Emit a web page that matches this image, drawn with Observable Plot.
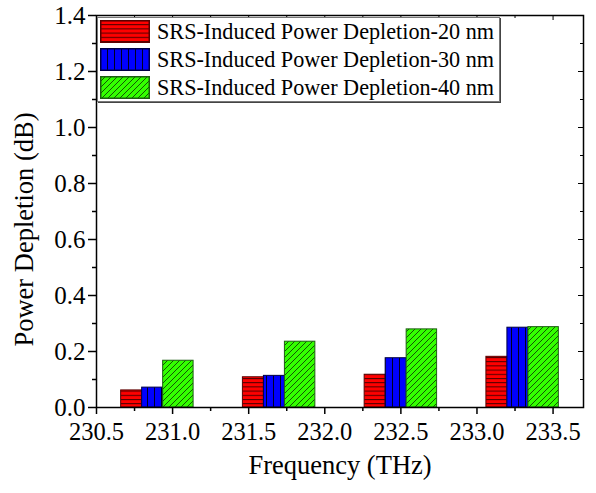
<!DOCTYPE html>
<html><head><meta charset="utf-8">
<script src="https://cdn.jsdelivr.net/npm/d3@7"></script>
<script src="https://cdn.jsdelivr.net/npm/@observablehq/plot@0.6"></script>
<style>
html,body{margin:0;padding:0;background:#fff;}
#wrap{position:relative;width:596px;height:493px;font-family:"Liberation Serif","Times New Roman",Times,serif;}
#wrap svg, #wrap svg text{font-family:"Liberation Serif","Times New Roman",Times,serif !important;}
#legend{position:absolute;left:97px;top:17px;width:401px;height:83px;border:1px solid #777;box-shadow:1px 1px 0 #444;background:#fff;padding:0;}
.lrow{position:absolute;left:2px;height:23px;display:flex;align-items:center;}
.lrow svg{display:block;}
.lrow span{margin-left:7px;font-size:22.2px;color:#000;white-space:nowrap;line-height:23px;font-family:"Liberation Serif","Times New Roman",Times,serif;}
</style></head><body><div id="wrap"></div>
<script>
// ---- data ----
const frequencies = [230.9, 231.7, 232.5, 233.3]; // group centres (THz)
const seriesNames = [
  "SRS-Induced Power Depletion-20 nm",
  "SRS-Induced Power Depletion-30 nm",
  "SRS-Induced Power Depletion-40 nm"
];
const depletion20 = [0.061, 0.108, 0.117, 0.181];
const depletion30 = [0.071, 0.113, 0.176, 0.285];
const depletion40 = [0.167, 0.235, 0.279, 0.287];
const xTickValues = [230.5, 231.0, 231.5, 232.0, 232.5, 233.0, 233.5];
const yTickValues = [0.0, 0.2, 0.4, 0.6, 0.8, 1.0, 1.2, 1.4];
const xLabel = "Frequency (THz)";
const yLabel = "Power Depletion (dB)";

// ---- styling / layout ----
const serif = "'Liberation Serif','Times New Roman',Times,serif";
const barWidths = [0.138, 0.138, 0.2];
const fills = ["#ff0000", "#0000ff", "#33ff00"];
const strokes = ["#5a0000", "#000044", "#1d5e12"];
const xMinor = xTickValues.slice(0, -1).map(v => v + 0.25);
const yMinor = yTickValues.slice(0, -1).map(v => v + 0.1);

const seriesValues = [depletion20, depletion30, depletion40];
const rows = [];
frequencies.forEach((f, i) => {
  let x = f - d3.sum(barWidths) / 2;
  seriesValues.forEach((vals, s) => {
    rows.push({s, name: seriesNames[s], freq: f, x1: x, x2: x + barWidths[s], value: vals[i]});
    x += barWidths[s];
  });
});

const W = 596, H = 493, mL = 96, mR = 13, mT = 15, mB = 86;
const fh = H - mT - mB, fw = W - mL - mR;

const plot = Plot.plot({
  width: W, height: H,
  marginLeft: mL, marginRight: mR, marginTop: mT, marginBottom: mB,
  style: {fontFamily: serif, fontSize: "25px", color: "#000", background: "#fff", overflow: "visible"},
  x: {domain: [230.5, 233.7]},
  y: {domain: [0, 1.4]},
  marks: [
    ...[0, 1, 2].map(s => Plot.rectY(rows.filter(d => d.s === s), {
      x1: "x1", x2: "x2", y: "value",
      fill: `url(#pat${s})`, stroke: strokes[s], strokeWidth: 1
    })),
    Plot.frame({stroke: "#000", strokeWidth: 1.5}),
    // bottom axis
    Plot.axisX(xTickValues, {tickSize: 7, tickPadding: 8, tickFormat: d3.format(".1f"), strokeWidth: 1.5,
      fontFamily: serif, fontSize: 24.5, label: null}),
    Plot.axisX(xMinor, {tickSize: 4, tickFormat: () => "", label: null, strokeWidth: 1.5}),
    Plot.text([xLabel], {text: d => d, frameAnchor: "bottom", textAnchor: "middle", lineAnchor: "middle",
      dy: 58, fontSize: 26.5, fontFamily: serif}),
    // left axis
    Plot.axisY(yTickValues, {tickSize: 8, tickPadding: 3, tickFormat: d3.format(".1f"), strokeWidth: 1.5,
      fontFamily: serif, label: null}),
    Plot.axisY(yMinor, {tickSize: 4, tickFormat: () => "", label: null, strokeWidth: 1.5}),
    // top & right inward ticks
    Plot.tickX(xTickValues, {x: d => d, insetBottom: fh - 5, stroke: "#000", strokeWidth: 1}),
    Plot.tickX(xMinor, {x: d => d, insetBottom: fh - 3, stroke: "#000", strokeWidth: 1}),
    Plot.tickY(yTickValues, {y: d => d, insetLeft: fw - 5, stroke: "#000", strokeWidth: 1}),
    Plot.tickY(yMinor, {y: d => d, insetLeft: fw - 3, stroke: "#000", strokeWidth: 1}),
    Plot.text([yLabel], {text: d => d, frameAnchor: "left", textAnchor: "middle", lineAnchor: "middle", rotate: -90,
      dx: -72, dy: 18, fontSize: 26.5, fontFamily: serif})
  ]
});

function addPatterns(sel, prefix) {
  const defs = sel.insert("defs", ":first-child");
  // red: horizontal lines
  const p0 = defs.append("pattern").attr("id", prefix + "0").attr("patternUnits", "userSpaceOnUse")
    .attr("width", 8).attr("height", 4.2);
  p0.append("rect").attr("width", 8).attr("height", 4.2).attr("fill", fills[0]);
  p0.append("line").attr("x1", 0).attr("x2", 8).attr("y1", 0.5).attr("y2", 0.5).attr("stroke", "#4a0000").attr("stroke-width", 1);
  // blue: vertical lines
  const p1 = defs.append("pattern").attr("id", prefix + "1").attr("patternUnits", "userSpaceOnUse")
    .attr("width", 7).attr("height", 8);
  p1.append("rect").attr("width", 7).attr("height", 8).attr("fill", fills[1]);
  p1.append("line").attr("x1", 0.5).attr("x2", 0.5).attr("y1", 0).attr("y2", 8).attr("stroke", "#000022").attr("stroke-width", 1);
  // green: diagonal lines
  const p2 = defs.append("pattern").attr("id", prefix + "2").attr("patternUnits", "userSpaceOnUse")
    .attr("width", 6).attr("height", 6);
  p2.append("rect").attr("width", 6).attr("height", 6).attr("fill", fills[2]);
  [[0, 6, 6, 0], [-1, 1, 1, -1], [5, 7, 7, 5]].forEach(([a, b, c, d]) =>
    p2.append("line").attr("x1", a).attr("y1", b).attr("x2", c).attr("y2", d).attr("stroke", "#0b2a05").attr("stroke-width", 0.8));
}
addPatterns(d3.select(plot), "pat");

const wrap = document.getElementById("wrap");
wrap.appendChild(plot);

// legend (inside plot area, top-left)
const legend = document.createElement("div");
legend.id = "legend";
wrap.appendChild(legend);
seriesNames.forEach((name, s) => {
  const row = document.createElement("div");
  row.className = "lrow";
  row.style.top = (2 + s * 28) + "px";
  const sw = d3.create("svg").attr("width", 50).attr("height", 23);
  addPatterns(sw, "lg" + s + "_");
  sw.append("rect").attr("x", 0.75).attr("y", 0.75).attr("width", 48.5).attr("height", 21.5)
    .attr("fill", `url(#lg${s}_${s})`).attr("stroke", strokes[s]).attr("stroke-width", 1.5);
  row.appendChild(sw.node());
  const t = document.createElement("span");
  t.textContent = name;
  row.appendChild(t);
  legend.appendChild(row);
});
</script>
</body></html>
